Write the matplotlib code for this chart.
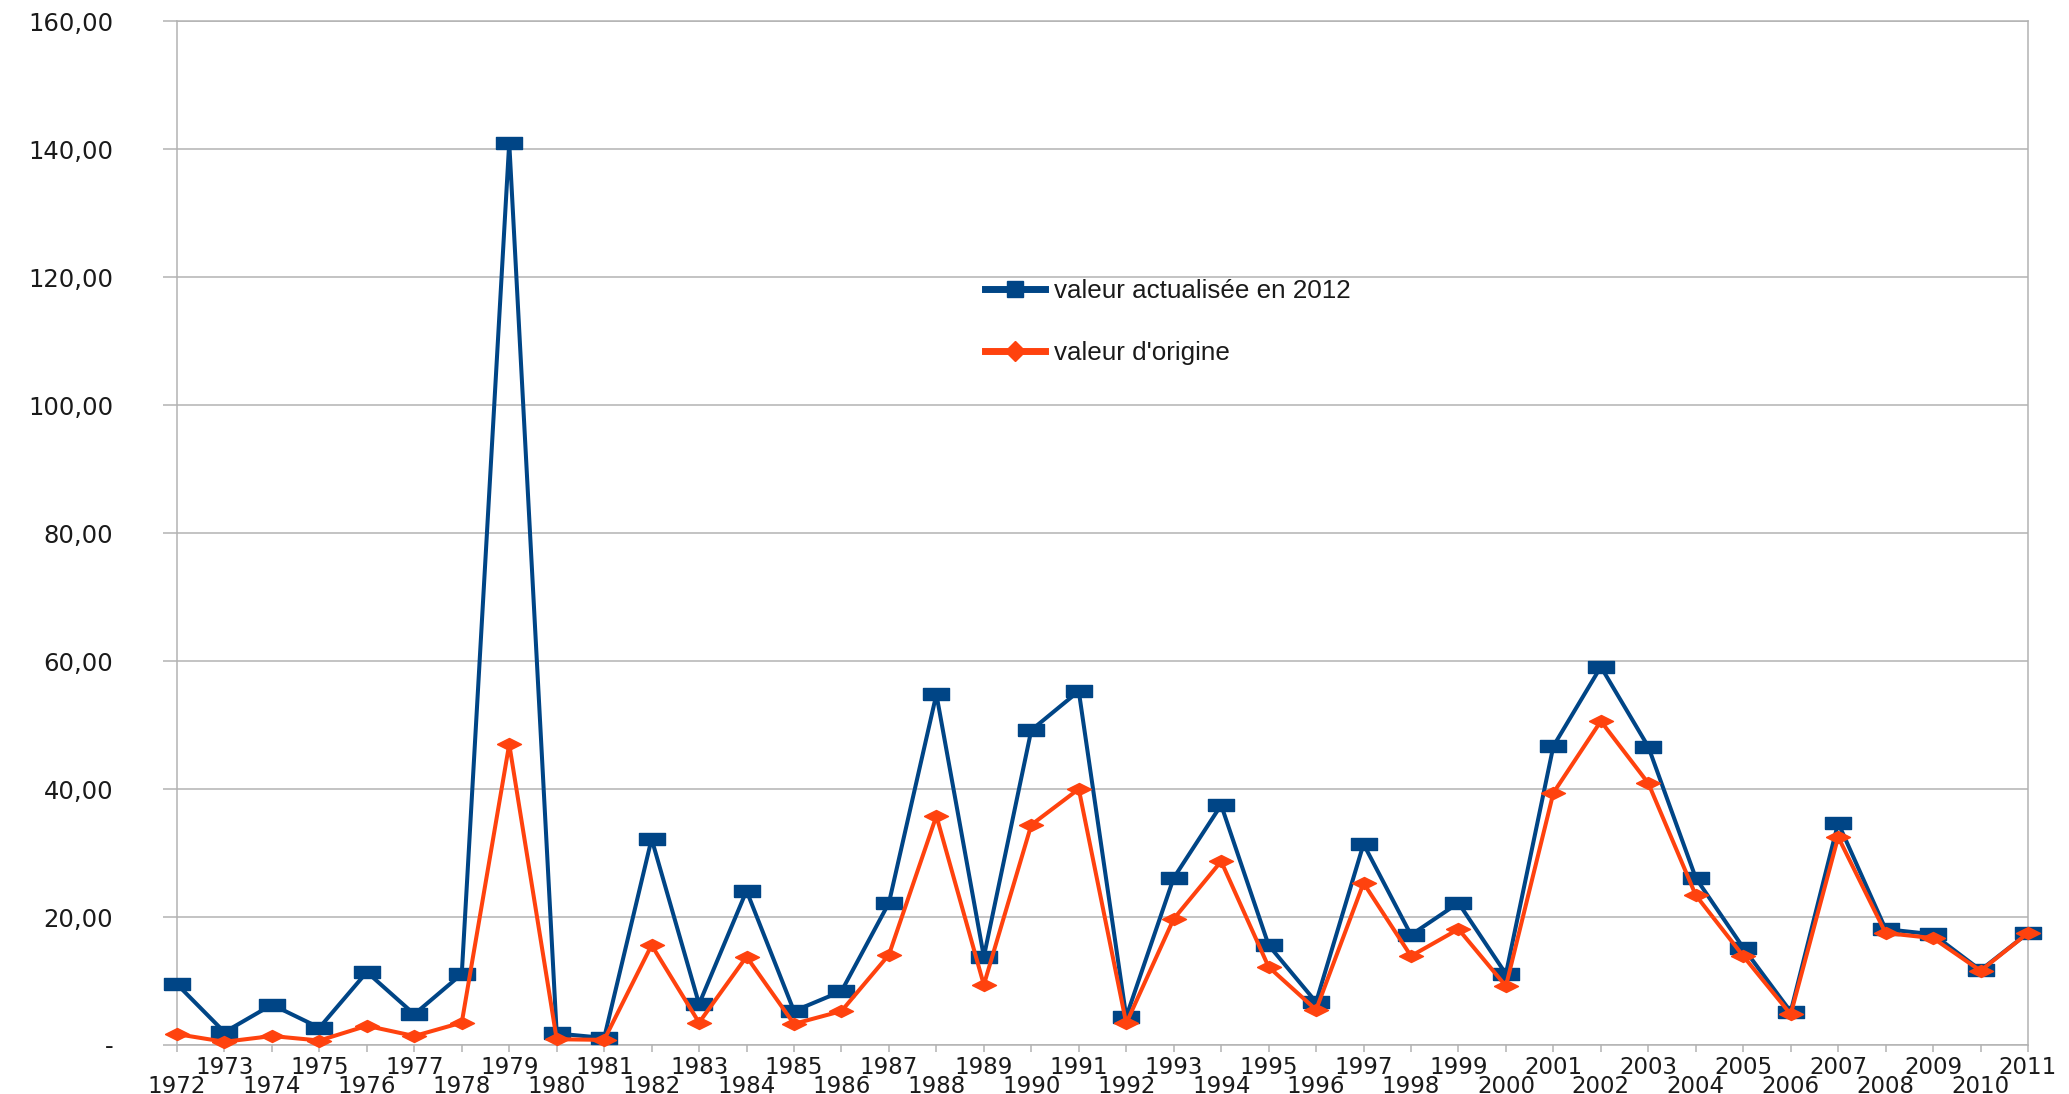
import matplotlib
matplotlib.use("Agg")
import matplotlib.pyplot as plt
from matplotlib.lines import Line2D

# annees et valeurs
years = list(range(1972, 2012))
valeur_2012 = [9.5, 2.0, 6.3, 2.7, 11.4, 4.8, 11.1, 141.0, 1.8, 1.1,
               32.2, 6.4, 24.1, 5.3, 8.4, 22.2, 54.8, 13.8, 49.2, 55.3,
               4.4, 26.1, 37.5, 15.6, 6.7, 31.4, 17.2, 22.2, 11.1, 46.7,
               59.1, 46.6, 26.1, 15.2, 5.2, 34.7, 18.1, 17.3, 11.7, 17.5]
valeur_origine = [1.7, 0.5, 1.4, 0.7, 3.0, 1.4, 3.5, 47.0, 0.9, 0.8,
                  15.6, 3.5, 13.8, 3.3, 5.3, 14.1, 35.8, 9.4, 34.4, 40.0,
                  3.4, 19.7, 28.7, 12.2, 5.5, 25.3, 13.9, 18.1, 9.2, 39.4,
                  50.6, 40.9, 23.4, 13.9, 4.8, 32.5, 17.5, 16.7, 11.6, 17.5]
y_ticks = [0, 20, 40, 60, 80, 100, 120, 140, 160]
y_labels = ["-", "20,00", "40,00", "60,00", "80,00", "100,00", "120,00", "140,00", "160,00"]
series_names = ["valeur actualisée en 2012", "valeur d'origine"]

BLUE = "#004586"
ORANGE = "#ff420e"
GRID = "#b3b3b3"
TXT = "#1a1a1a"

# marqueurs aplatis comme dans l'original
rect_marker = [(-13, -6), (13, -6), (13, 6), (-13, 6), (-13, -6)]
diam_marker = [(-12, 0), (0, 6), (12, 0), (0, -6), (-12, 0)]

fig = plt.figure(figsize=(20.69, 10.94), dpi=100)
ax = fig.add_axes([177 / 2069, 1 - 1045 / 1094, 1851 / 2069, 1024 / 1094])

ax.plot(years, valeur_2012, color=BLUE, lw=2.9, marker=rect_marker,
        markersize=18.7, clip_on=False, zorder=3)
ax.plot(years, valeur_origine, color=ORANGE, lw=2.9, marker=diam_marker,
        markersize=17.3, clip_on=False, zorder=4)

ax.set_xlim(1972, 2011)
ax.set_ylim(0, 160)

ax.set_yticks(y_ticks)
ax.set_yticklabels(y_labels, fontsize=17.5, family="DejaVu Sans", color=TXT)
ax.tick_params(axis="y", length=10, width=1.1, color=GRID, pad=36)

# annees paires en bas, impaires en haut
even = [y for y in years if y % 2 == 0]
odd = [y for y in years if y % 2 == 1]
ax.set_xticks(even)
ax.set_xticklabels([str(y) for y in even], fontsize=16.5, family="DejaVu Sans", color=TXT)
ax.set_xticks(odd, minor=True)
ax.set_xticklabels([str(y) for y in odd], minor=True, fontsize=16.5, family="DejaVu Sans", color=TXT)
ax.tick_params(axis="x", which="major", length=5, width=1.1, color=GRID, pad=16.5)
ax.tick_params(axis="x", which="minor", length=5, width=1.1, color=GRID, pad=3.2)

ax.grid(axis="y", color=GRID, lw=1.1)
ax.set_axisbelow(True)
for s in ax.spines.values():
    s.set_color(GRID)
    s.set_linewidth(1.1)

handles = [
    Line2D([], [], color=BLUE, lw=5, marker="s", markersize=12),
    Line2D([], [], color=ORANGE, lw=5, marker="D", markersize=10),
]
fig.legend(handles, series_names, loc="upper left",
           bbox_to_anchor=(985 / 2069, 1 - 279 / 1094), frameon=False,
           prop={"family": "Liberation Sans", "size": 18.7},
           handlelength=2.3, handletextpad=0.35, labelspacing=1.45,
           borderpad=0, borderaxespad=0, labelcolor=TXT)

fig.savefig("out.png", dpi=100)
